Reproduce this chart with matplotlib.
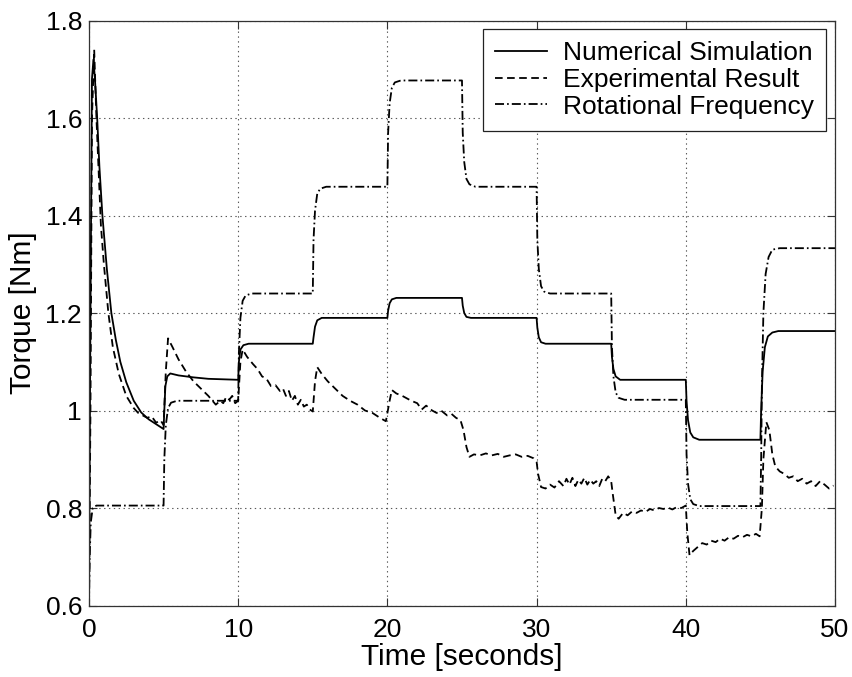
import matplotlib
matplotlib.use("Agg")
import matplotlib.pyplot as plt

plt.rcParams['font.family'] = ['Liberation Sans', 'DejaVu Sans']
plt.rcParams['lines.scale_dashes'] = False

# Numerical simulation (solid)
sim_t = [0.0, 0.1, 0.2, 0.3, 0.4, 0.55, 0.7, 0.9, 1.2, 1.5, 1.8, 2.1, 2.5, 3.0, 3.5, 4.0, 4.5, 5.0,
         5.05, 5.12, 5.25, 5.45, 6.0, 7.0, 8.0, 10.0,
         10.05, 10.15, 10.35, 10.7, 15.0,
         15.05, 15.15, 15.3, 15.6, 20.0,
         20.05, 20.15, 20.3, 20.6, 25.0,
         25.05, 25.15, 25.3, 25.6, 30.0,
         30.05, 30.15, 30.3, 30.6, 35.0,
         35.05, 35.15, 35.3, 35.6, 40.0,
         40.05, 40.15, 40.3, 40.5, 40.9, 45.0,
         45.05, 45.15, 45.3, 45.5, 45.8, 46.2, 50.0]
sim_y = [0.62, 1.20, 1.68, 1.72, 1.68, 1.60, 1.50, 1.40, 1.29, 1.20, 1.145, 1.10, 1.058, 1.02, 0.996, 0.982, 0.972, 0.962,
         1.00, 1.05, 1.07, 1.076, 1.072, 1.068, 1.065, 1.063,
         1.10, 1.125, 1.134, 1.137, 1.137,
         1.15, 1.172, 1.185, 1.19, 1.19,
         1.205, 1.22, 1.228, 1.231, 1.231,
         1.215, 1.20, 1.192, 1.19, 1.19,
         1.17, 1.15, 1.14, 1.137, 1.137,
         1.11, 1.085, 1.07, 1.063, 1.063,
         1.02, 0.98, 0.955, 0.945, 0.94, 0.94,
         1.00, 1.08, 1.13, 1.152, 1.16, 1.163, 1.163]

# Experimental result (dashed)
exp_t = [0.0, 0.1, 0.2, 0.35, 0.5, 0.8, 1.0, 1.3, 1.6, 2.0, 2.5, 3.0, 3.3, 3.6, 3.9, 4.2, 4.5, 4.8, 5.0,
         5.15, 5.3, 5.6, 6.0, 6.5, 7.0, 7.5, 8.0, 8.5, 8.8, 9.0, 9.2, 9.4, 9.6, 9.8, 10.0,
         10.15, 10.3, 10.6, 11.0, 11.3, 11.6, 11.9, 12.2, 12.5, 12.8, 13.0, 13.2, 13.4, 13.6, 13.8,
         14.0, 14.2, 14.4, 14.6, 14.8, 15.0,
         15.15, 15.3, 15.6, 16.0, 16.5, 17.0, 17.5, 18.0, 18.5, 19.0, 19.5, 19.9,
         20.15, 20.3, 20.6, 21.0, 21.3, 21.6, 22.0, 22.3, 22.6, 23.0, 23.3, 23.6, 24.0, 24.3, 24.6, 24.9,
         25.1, 25.3, 25.5, 25.8, 26.2, 26.6, 27.0, 27.4, 27.8, 28.2, 28.6, 29.0, 29.4, 29.8, 30.0,
         30.1, 30.3, 30.6, 30.9, 31.2, 31.5, 31.8, 32.0, 32.2, 32.4, 32.6, 32.8, 33.0, 33.2, 33.4,
         33.6, 33.8, 34.0, 34.2, 34.4, 34.6, 34.8, 35.0,
         35.1, 35.3, 35.5, 35.8, 36.1, 36.4, 36.7, 37.0, 37.3, 37.6, 37.9, 38.2, 38.5, 38.8, 39.1,
         39.4, 39.7, 40.0,
         40.1, 40.25, 40.5, 40.8, 41.1, 41.4, 41.7, 42.0, 42.3, 42.6, 42.9, 43.2, 43.5, 43.8, 44.1,
         44.4, 44.7, 44.95,
         45.1, 45.2, 45.4, 45.6, 45.8, 46.0, 46.3, 46.6, 46.9, 47.2, 47.5, 47.8, 48.1, 48.4, 48.7,
         49.0, 49.3, 49.6, 49.9]
exp_y = [0.60, 1.00, 1.60, 1.74, 1.60, 1.38, 1.30, 1.20, 1.13, 1.075, 1.03, 1.005, 0.995, 0.99, 0.985, 0.988, 0.975, 0.98, 0.97,
         1.08, 1.148, 1.13, 1.105, 1.08, 1.06, 1.045, 1.03, 1.012, 1.02, 1.015, 1.028, 1.022, 1.03, 1.015, 1.02,
         1.10, 1.125, 1.11, 1.095, 1.085, 1.07, 1.065, 1.05, 1.052, 1.04, 1.045, 1.03, 1.04, 1.02, 1.03,
         1.012, 1.022, 1.008, 1.012, 1.002, 0.998,
         1.06, 1.089, 1.075, 1.06, 1.045, 1.03, 1.02, 1.012, 1.0, 0.995, 0.985, 0.978,
         1.02, 1.042, 1.035, 1.03, 1.025, 1.02, 1.015, 1.002, 1.01, 1.0, 0.995, 1.0, 0.99, 0.993, 0.985, 0.98,
         0.96, 0.925, 0.905, 0.91, 0.908, 0.912, 0.908, 0.911, 0.905, 0.908, 0.91, 0.905, 0.907, 0.902, 0.895,
         0.87, 0.843, 0.84, 0.848, 0.842, 0.855, 0.845, 0.86, 0.848, 0.862, 0.845, 0.858, 0.85, 0.862, 0.848,
         0.858, 0.85, 0.855, 0.845, 0.86, 0.855, 0.865, 0.855,
         0.83, 0.785, 0.778, 0.79, 0.785, 0.793, 0.79, 0.795, 0.792, 0.798, 0.795, 0.80, 0.798, 0.801, 0.797,
         0.802, 0.80, 0.805,
         0.75, 0.703, 0.712, 0.72, 0.728, 0.725, 0.733, 0.73, 0.737, 0.733, 0.74, 0.737, 0.743, 0.74, 0.745,
         0.742, 0.747, 0.742,
         0.80, 0.90, 0.976, 0.96, 0.91, 0.885, 0.875, 0.87, 0.862, 0.865, 0.855, 0.86, 0.85, 0.855, 0.845,
         0.855, 0.848, 0.84, 0.846]

# Rotational frequency (dash-dot)
rot_t = [0.0, 0.05, 0.12, 0.25, 0.5, 5.0,
         5.05, 5.15, 5.3, 5.5, 5.9, 10.0,
         10.05, 10.15, 10.3, 10.5, 10.9, 15.0,
         15.05, 15.15, 15.3, 15.5, 15.9, 20.0,
         20.05, 20.15, 20.3, 20.5, 20.9, 25.0,
         25.05, 25.15, 25.3, 25.5, 25.9, 30.0,
         30.05, 30.15, 30.3, 30.5, 30.9, 35.0,
         35.05, 35.15, 35.3, 35.5, 35.9, 40.0,
         40.05, 40.15, 40.3, 40.5, 40.9, 45.0,
         45.05, 45.1, 45.2, 45.35, 45.55, 45.8, 46.3, 50.0]
rot_y = [0.60, 0.70, 0.77, 0.80, 0.805, 0.805,
         0.90, 0.97, 1.005, 1.016, 1.02, 1.02,
         1.12, 1.19, 1.225, 1.236, 1.24, 1.24,
         1.35, 1.41, 1.445, 1.455, 1.459, 1.459,
         1.57, 1.63, 1.662, 1.673, 1.677, 1.677,
         1.57, 1.51, 1.475, 1.464, 1.459, 1.459,
         1.35, 1.29, 1.255, 1.244, 1.24, 1.24,
         1.13, 1.07, 1.037, 1.026, 1.022, 1.022,
         0.91, 0.85, 0.818, 0.808, 0.804, 0.804,
         0.90, 1.05, 1.20, 1.28, 1.315, 1.33, 1.333, 1.333]

x_ticks = [0, 10, 20, 30, 40, 50]
y_ticks = [0.6, 0.8, 1.0, 1.2, 1.4, 1.6, 1.8]
y_ticklabels = ['0.6', '0.8', '1', '1.2', '1.4', '1.6', '1.8']

fig = plt.figure(figsize=(8.53, 6.77), dpi=100)
ax = fig.add_axes([0.1043, 0.1056, 0.8746, 0.8641])

ax.plot(sim_t, sim_y, color='black', lw=1.3, linestyle='-', label='Numerical Simulation')
ax.plot(exp_t, exp_y, color='black', lw=1.3, linestyle=(0, (5.5, 3.2)), label='Experimental Result')
ax.plot(rot_t, rot_y, color='black', lw=1.3, linestyle=(0, (6.5, 2.2, 1.2, 2.2)), label='Rotational Frequency')

ax.set_xlim(0, 50)
ax.set_ylim(0.6, 1.8)
ax.set_xticks(x_ticks)
ax.set_yticks(y_ticks)
ax.set_yticklabels(y_ticklabels)
ax.grid(True, linestyle=(0, (1, 2.5)), color='0.35', lw=0.8)
ax.tick_params(direction='in', top=True, right=True, length=6, width=0.8, colors='#333333',
               labelcolor='black', labelsize=19)
ax.tick_params(axis='x', pad=9)
ax.tick_params(axis='y', pad=5)
for s in ax.spines.values():
    s.set_color('#333333')
    s.set_linewidth(0.9)

ax.set_xlabel('Time [seconds]', fontsize=21.5, labelpad=1)
ax.set_ylabel('Torque [Nm]', fontsize=21.5, labelpad=6)

leg = ax.legend(loc='upper right', fontsize=19, fancybox=False, framealpha=1,
                edgecolor='#222222', borderpad=0.45, handlelength=2.0, handletextpad=0.6,
                labelspacing=0.1, borderaxespad=0.34)
leg.get_frame().set_linewidth(0.9)

fig.savefig('out.png', dpi=100, facecolor='white')
